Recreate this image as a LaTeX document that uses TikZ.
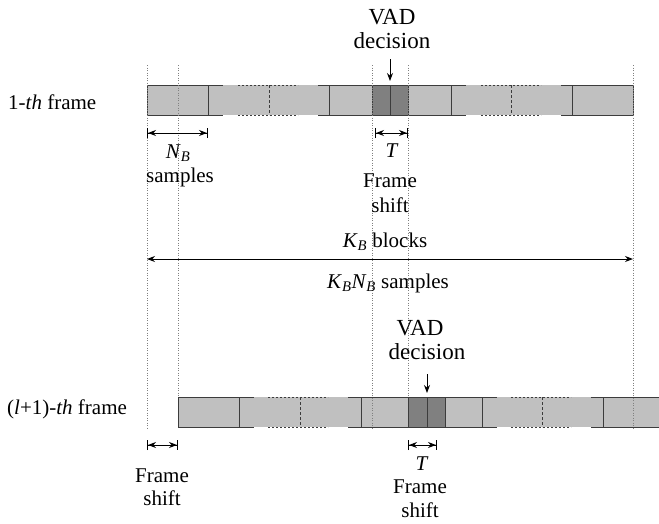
\documentclass[tikz,border=0pt]{standalone}
\usepackage{fontspec}
\setmainfont{Liberation Serif}
\usepackage{xcolor}
\usetikzlibrary{
    arrows.meta,
    positioning
}
\definecolor{barLight}{RGB}{192,192,192}
\definecolor{barDark}{RGB}{128,128,128}
\definecolor{barEdge}{RGB}{60,60,60}
\tikzset{
  lbl/.style     = {inner sep=0pt, anchor=base, font=\fontsize{21}{24}\selectfont},
  vadlbl/.style  = {lbl, font=\fontsize{23}{24}\selectfont},
  edge/.style    = {barEdge, line width=1pt},
  dotedge/.style = {barEdge, line width=1pt, dash pattern=on 2pt off 2pt},
  divdash/.style = {barEdge, line width=1pt, dash pattern=on 3pt off 2pt},
  guide/.style   = {gray, line width=0.7pt, dash pattern=on 1pt off 1.5pt},
  dim/.style     = {{Bar[width=10pt]Stealth[length=8pt,width=6pt]}-{Stealth[length=8pt,width=6pt]Bar[width=10pt]},
                    line width=1pt},
  span/.style    = {{Stealth[length=8pt,width=6pt]}-{Stealth[length=8pt,width=6pt]}, line width=1pt},
  vadarr/.style  = {-{Stealth[length=8pt,width=6pt]}, line width=1pt}
}
\newcommand{\isub}[2]{\textit{#1}\textsubscript{\textit{#2}}}

\begin{document}
\begin{tikzpicture}[x=1pt, y=-1pt]
  \useasboundingbox (0,0) rectangle (659,523);

  % l-th frame
  \fill[barLight] (147,85) rectangle (633,115);
  \fill[barDark] (372,85) rectangle (408,115);
  \foreach \a/\b in {147/223, 318/466, 561/633}
    \draw[edge] (\a,85) -- (\b,85) (\a,115) -- (\b,115);
  \foreach \a/\b in {238/298, 481/541}
    \draw[dotedge] (\a,85) -- (\b,85) (\a,115) -- (\b,115);
  \foreach \x in {147,208,329,372,390,408,451,572,633}
    \draw[edge] (\x,85) -- (\x,115);
  \foreach \x in {269,511}
    \draw[divdash] (\x,85) -- (\x,115);

  % (l+1)-th frame
  \fill[barLight] (178,397) rectangle (659,427);
  \fill[barDark] (408,397) rectangle (445,427);
  \foreach \a/\b in {178/254, 348/497, 591/659}
    \draw[edge] (\a,397) -- (\b,397) (\a,427) -- (\b,427);
  \foreach \a/\b in {268/328, 511/571}
    \draw[dotedge] (\a,397) -- (\b,397) (\a,427) -- (\b,427);
  \foreach \x in {178,239,361,408,427,445,482,603}
    \draw[edge] (\x,397) -- (\x,427);
  \foreach \x in {300,542}
    \draw[divdash] (\x,397) -- (\x,427);

  % guide lines
  \foreach \x/\e in {147/430, 178/397, 372/430, 408/397, 633/430}
    \draw[guide] (\x,65) -- (\x,\e);

  \coordinate (nbL) at (147,133);
  \coordinate (nbR) at (208,133);
  \coordinate (tL) at (375,133);
  \coordinate (tR) at (408,133);
  \coordinate (kbL) at (147,259);
  \coordinate (kbR) at (633,259);
  \coordinate (fsL) at (147,445);
  \coordinate (fsR) at (178,445);
  \coordinate (ttL) at (408,445);
  \coordinate (ttR) at (437,445);
  \coordinate (vadTop) at (390,59);
  \coordinate (vadBar) at (390,81);
  \coordinate (vadTopB) at (427,374);
  \coordinate (vadBarB) at (427,393);

  \node[vadlbl] (vad) at (392,24) {VAD};
  \node[vadlbl] (dec) at (392,48) {decision};
  \node[lbl, anchor=base west] (frm) at (8,109) {1-\textit{th} frame};
  \node[lbl] (nb) at (178,158) {\isub{N}{B}};
  \node[lbl] (nbs) at (180,182) {samples};
  \node[lbl] (t) at (392,157) {\textit{T}};
  \node[lbl] (tf) at (390,187) {Frame};
  \node[lbl] (ts) at (390,212) {shift};
  \node[lbl] (kb) at (385,247) {\isub{K}{B} blocks};
  \node[lbl] (kbnb) at (388,288) {\isub{K}{B}\isub{N}{B} samples};

  \node[vadlbl] (vadB) at (420,335) {VAD};
  \node[vadlbl] (decB) at (427,359) {decision};
  \node[lbl, anchor=base west] (frmB) at (7,414) {(\textit{l}+1)-\textit{th} frame};
  \node[lbl] (fsf) at (162,482) {Frame};
  \node[lbl] (fss) at (162,505) {shift};
  \node[lbl] (tB) at (422,470) {\textit{T}};
  \node[lbl] (tBf) at (420,493) {Frame};
  \node[lbl] (tBs) at (420,517) {shift};

  \draw[dim] (nbL) -- (nbR);
  \draw[dim] (tL) -- (tR);
  \draw[span] (kbL) -- (kbR);
  \draw[dim] (fsL) -- (fsR);
  \draw[dim] (ttL) -- (ttR);
  \draw[vadarr] (vadTop) -- (vadBar);
  \draw[vadarr] (vadTopB) -- (vadBarB);
\end{tikzpicture}
\end{document}
